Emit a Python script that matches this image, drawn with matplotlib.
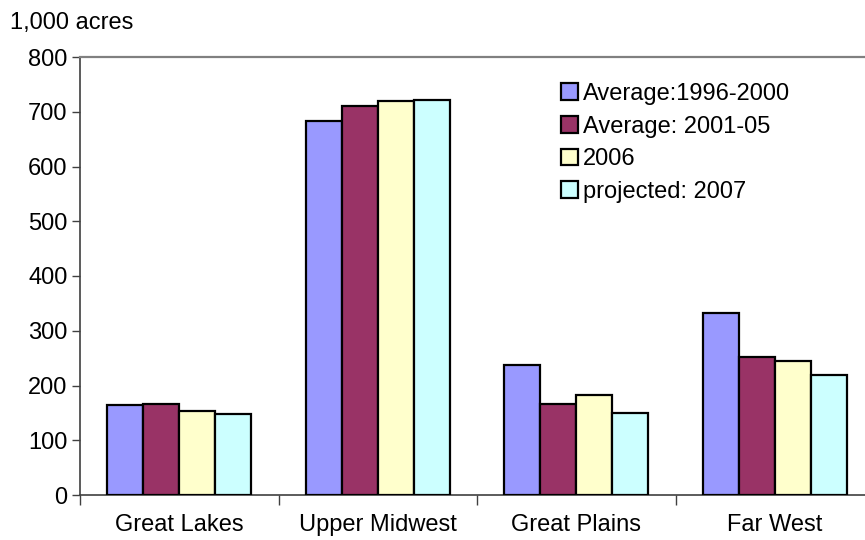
import numpy as np
import matplotlib.pyplot as plt

plt.rcParams['font.family'] = ['Liberation Sans', 'DejaVu Sans']

# Acreage by region, 1,000 acres
regions = ["Great Lakes", "Upper Midwest", "Great Plains", "Far West"]
series_names = ["Average:1996-2000", "Average: 2001-05", "2006", "projected: 2007"]
avg_1996_2000 = [164, 684, 237, 333]
avg_2001_05 = [167, 711, 167, 252]
y2006 = [153, 720, 183, 245]
proj_2007 = [148, 722, 150, 219]
series = [avg_1996_2000, avg_2001_05, y2006, proj_2007]
colors = ["#9999FF", "#993366", "#FFFFCC", "#CCFFFF"]

FS = 17

fig = plt.figure(figsize=(8.65, 5.4), dpi=100)
# plot area runs off the right edge of the image
ax = fig.add_axes([80 / 865, 45 / 540, 794 / 865, 438 / 540])

x = np.arange(len(regions))
w = 0.1815
for i, (vals, name, c) in enumerate(zip(series, series_names, colors)):
    ax.bar(x + (i - 1.5) * w, vals, w, color=c, edgecolor="black",
           linewidth=1.6, label=name, zorder=3)

ax.set_xlim(-0.5, len(regions) - 0.5)
ax.set_ylim(0, 800)
ax.set_yticks(range(0, 801, 100))
ax.tick_params(axis="y", direction="out", length=6, width=1, color="#404040",
               labelsize=FS, pad=3)

# category labels centred, tick marks on the boundaries
ax.set_xticks(x)
ax.set_xticklabels(regions)
ax.tick_params(axis="x", length=0, labelsize=FS, pad=14)
ax.set_xticks(np.arange(len(regions) + 1) - 0.5, minor=True)
ax.tick_params(axis="x", which="minor", direction="out", length=7, width=1,
               color="#404040")

ax.spines["left"].set_color("#404040")
ax.spines["bottom"].set_color("#404040")
ax.spines["top"].set_color("#808080")
ax.spines["top"].set_linewidth(1.6)
ax.spines["right"].set_visible(False)
for s in ("left", "bottom"):
    ax.spines[s].set_linewidth(1.2)

fig.text(10 / 865, 1 - 23 / 540, "1,000 acres", fontsize=FS, va="center", ha="left")

leg = ax.legend(loc="upper left", frameon=False, fontsize=FS,
                handlelength=0.72, handleheight=0.72, handletextpad=0.2,
                labelspacing=0.45, borderaxespad=0, borderpad=0)
leg.set_bbox_to_anchor((561 / 865, 1 - 83 / 540), transform=fig.transFigure)

fig.savefig("out.png", dpi=100)
